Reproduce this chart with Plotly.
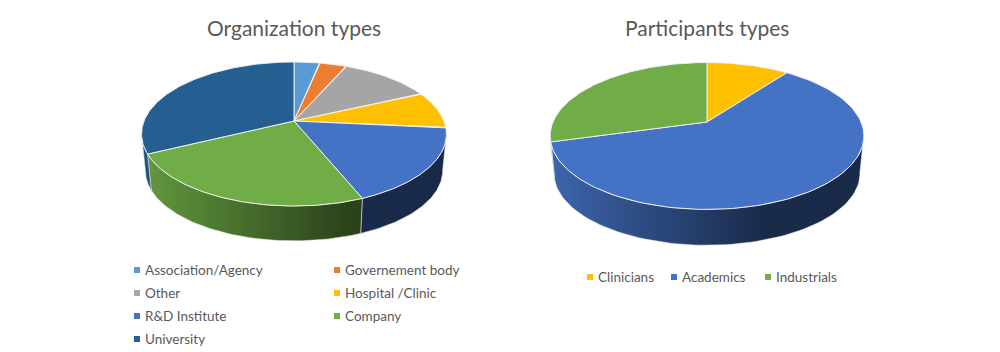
import numpy as np
import plotly.graph_objects as go

# ---- data ----
org_labels = ["Association/Agency", "Governement body", "Other", "Hospital /Clinic",
              "R&D Institute", "Company", "University"]
org_values = [3.2, 3.4, 11.5, 8.3, 17.4, 24.0, 32.2]
org_colors = ["#5B9BD5", "#ED7D31", "#A5A5A5", "#FFC000", "#4472C4", "#70AD47", "#255E91"]

part_labels = ["Clinicians", "Academics", "Industrials"]
part_values = [10.2, 60.5, 29.3]
part_colors = ["#FFC000", "#4472C4", "#70AD47"]

TEXT = "#595959"
FONT = "Lato"

fig = go.Figure()


def shade(hexc, f):
    r, g, b = [int(hexc[i:i + 2], 16) for i in (1, 3, 5)]
    return f"rgb({round(r * f)},{round(g * f)},{round(b * f)})"


def pie3d(values, colors, cx, cy, A, B, k, depth, s):
    def rim(th, bottom=False):
        u, v = np.sin(th), -np.cos(th)
        X = A * u / (1 - k * v)
        Y = B * v / (1 - k * v)
        if bottom:
            return cx + X * s, cy + Y * s + depth
        return cx + X, cy + Y

    edges = np.concatenate([[0], np.cumsum(values)]) / np.sum(values) * 2 * np.pi
    front0, front1 = np.radians(100), np.radians(260)
    x_left, x_right = rim(np.radians(270))[0], rim(np.radians(90))[0]

    # side walls
    for i, col in enumerate(colors):
        a0, a1 = max(edges[i], front0), min(edges[i + 1], front1)
        if a1 <= a0:
            continue
        th = np.linspace(a0, a1, 80)
        xt, yt = rim(th)
        xb, yb = rim(th[::-1], True)
        stops = [(0.0, 0.88), (0.68, 0.38), (1.0, 0.37)]
        fig.add_trace(go.Scatter(
            x=np.concatenate([xt, xb, xt[:1]]), y=np.concatenate([yt, yb, yt[:1]]),
            mode="lines", line=dict(color="rgba(235,235,235,0.9)", width=0.6),
            fill="toself",
            fillgradient=dict(type="horizontal", start=x_left, stop=x_right,
                              colorscale=[[p, shade(col, f)] for p, f in stops]),
            hoverinfo="skip", showlegend=False))

    # top faces
    for i, col in enumerate(colors):
        th = np.linspace(edges[i], edges[i + 1], 120)
        xt, yt = rim(th)
        fig.add_trace(go.Scatter(
            x=np.concatenate([[cx], xt, [cx]]), y=np.concatenate([[cy], yt, [cy]]),
            mode="lines", line=dict(color="rgba(240,240,240,0.95)", width=1),
            fill="toself", fillcolor=col, hoverinfo="skip", showlegend=False))


pie3d(org_values, org_colors, 294, 121, 150, 69.7, 0.18, 37, 0.975)
pie3d(part_values, part_colors, 707, 122, 154, 70.8, 0.19, 38, 0.975)

# legends
org_lx = [137, 337] * 4
org_ly = [270, 270, 293, 293, 316, 316, 339]
part_lx = [590, 674, 768]
part_ly = [277, 277, 277]


def legend(labels, colors, lx, ly, gap):
    fig.add_trace(go.Scatter(
        x=lx[:len(labels)], y=ly[:len(labels)], mode="markers",
        marker=dict(symbol="square", size=6, color=colors, line=dict(width=0)),
        hoverinfo="skip", showlegend=False))
    for lab, x, y in zip(labels, lx, ly):
        fig.add_annotation(x=x + gap, y=y, text=lab, showarrow=False, xanchor="left", yanchor="middle",
                           xref="x", yref="y", font=dict(family=FONT, size=13.5, color=TEXT))


legend(org_labels, org_colors, org_lx, org_ly, 6)
legend(part_labels, part_colors, part_lx, part_ly, 5.5)

for title, x in [("Organization types", 293.5), ("Participants types", 707)]:
    fig.add_annotation(x=x, y=27, text=title, showarrow=False, xanchor="center", yanchor="middle",
                       xref="x", yref="y", font=dict(family=FONT, size=21, color=TEXT))

fig.update_layout(
    width=1000, height=352, margin=dict(l=0, r=0, t=0, b=0),
    paper_bgcolor="white", plot_bgcolor="white", showlegend=False,
    xaxis=dict(range=[0, 1000], visible=False, fixedrange=True),
    yaxis=dict(range=[352, 0], visible=False, fixedrange=True),
)
fig.write_html("out.html", config={"displayModeBar": False},
               post_script="document.body.style.margin='0';document.body.style.overflow='hidden';")
